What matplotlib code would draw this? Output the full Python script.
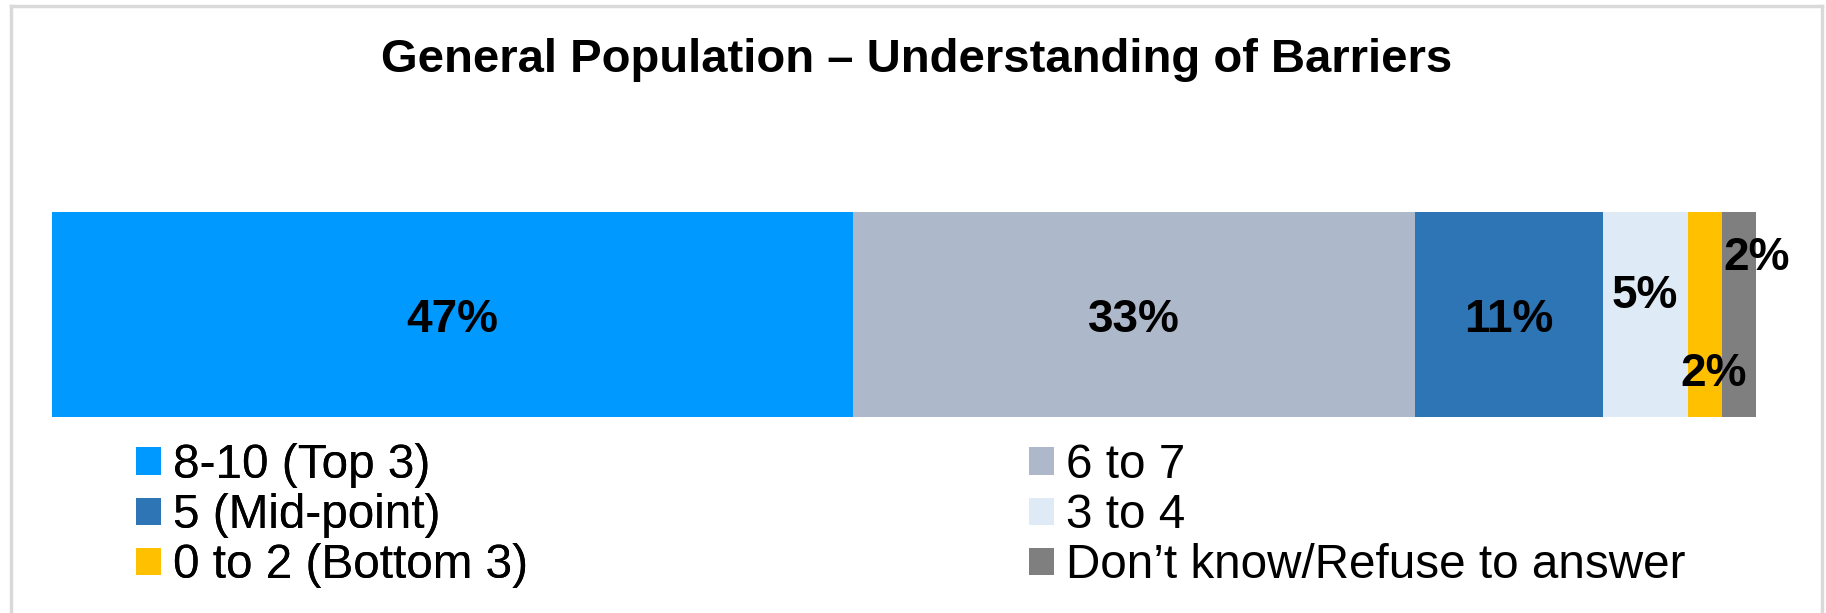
import matplotlib
matplotlib.use("Agg")
import matplotlib.pyplot as plt
from matplotlib.lines import Line2D

plt.rcParams['font.family'] = ['Liberation Sans', 'DejaVu Sans']

# data
categories = ['8-10 (Top 3)', '6 to 7', '5 (Mid-point)', '3 to 4',
              '0 to 2 (Bottom 3)', 'Don\u2019t know/Refuse to answer']
values = [47, 33, 11, 5, 2, 2]
colors = ['#0099FF', '#ADB9CA', '#2E75B6', '#DEEBF7', '#FFC000', '#7F7F7F']
title = 'General Population \u2013 Understanding of Barriers'

# label nudges (pixels) for the thin segments
label_offsets = [(0, -5), (0, -5), (0, -5), (0, 19), (9, -60), (18, 57)]

fig = plt.figure(figsize=(18.26, 6.13), dpi=100)
ax = fig.add_axes([52 / 1826, 1 - 417 / 613, 1704 / 1826, 205 / 613])

left = 0
bars = []
for cat, val, col, off in zip(categories, values, colors, label_offsets):
    b = ax.barh(0, val, left=left, height=1.0, color=col, label=cat)
    bars.append(b[0])
    ax.annotate(f'{val}%', xy=(left + val / 2, 0), xytext=off,
                textcoords='offset pixels', ha='center', va='center',
                fontsize=33, fontweight='bold', color='black')
    left += val

ax.set_xlim(0, 100)
ax.set_ylim(-0.5, 0.5)
ax.axis('off')

fig.text(917 / 1826, 1 - 72 / 613, title, ha='center', va='baseline',
         fontsize=34, fontweight='bold')

# legend, two columns placed separately
left_idx = [0, 2, 4]
right_idx = [1, 3, 5]
leg_kw = dict(loc='upper left', frameon=False, fontsize=34.3, handlelength=0.53,
              handleheight=0.51, handletextpad=0.24, labelspacing=0.11,
              borderpad=0, borderaxespad=0)
leg1 = fig.legend([bars[i] for i in left_idx], [categories[i] for i in left_idx],
                  bbox_to_anchor=(136 / 1826, 1 - 443 / 613), **leg_kw)
leg2 = fig.legend([bars[i] for i in right_idx], [categories[i] for i in right_idx],
                  bbox_to_anchor=(1029 / 1826, 1 - 443 / 613), **leg_kw)
fig.add_artist(leg1)

# light frame around the chart area
frame_col = '#D9D9D9'
fig.add_artist(Line2D([11 / 1826, 11 / 1826], [0, 1 - 6 / 613], color=frame_col, lw=2.5, transform=fig.transFigure))
fig.add_artist(Line2D([11 / 1826, 1822 / 1826], [1 - 6 / 613, 1 - 6 / 613], color=frame_col, lw=2.5, transform=fig.transFigure))
fig.add_artist(Line2D([1822 / 1826, 1822 / 1826], [0, 1 - 6 / 613], color=frame_col, lw=2.5, transform=fig.transFigure))

fig.savefig('out.png', dpi=100, facecolor='white')
